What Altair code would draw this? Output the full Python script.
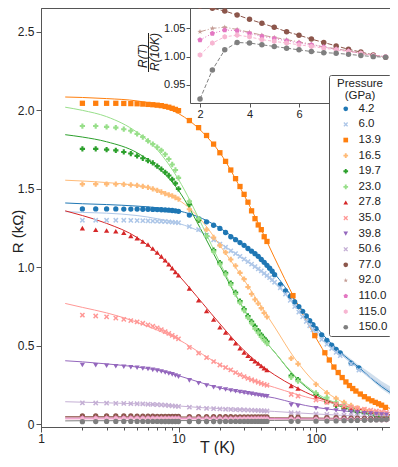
import altair as alt
import pandas as pd

FONT = "Liberation Sans"
PL, PT = 41, 8          # page position of plot-area top-left corner
W, H = 349, 419         # plot area
SVG_W, SVG_H = 382, 447

PRESSURES = ["4.2", "6.0", "13.9", "16.5", "19.7", "23.0", "27.8", "35.0", "39.8",
             "50.6", "77.0", "92.0", "110.0", "115.0", "150.0"]
COLORS = ["#1f77b4", "#aec7e8", "#ff7f0e", "#ffbb78", "#2ca02c", "#98df8a", "#d62728",
          "#ff9896", "#9467bd", "#c5b0d5", "#8c564b", "#c49c94", "#e377c2", "#f7b6d2", "#7f7f7f"]
X_PATH = "M-1,-0.6L-0.6,-1L0,-0.4L0.6,-1L1,-0.6L0.4,0L1,0.6L0.6,1L0,0.4L-0.6,1L-1,0.6L-0.4,0Z"
STAR = "M0,-1L0.235,-0.324L0.951,-0.309L0.38,0.124L0.588,0.809L0,0.4L-0.588,0.809L-0.38,0.124L-0.951,-0.309L-0.235,-0.324Z"
PENT = "M0,-1L0.951,-0.309L0.588,0.809L-0.588,0.809L-0.951,-0.309Z"
HEX = "M0,-1L0.866,-0.5L0.866,0.5L0,1L-0.866,0.5L-0.866,-0.5Z"
SHAPES = ["circle", X_PATH, "square", "cross", "cross", "cross", "triangle-up", X_PATH,
          "triangle-down", X_PATH, "circle", STAR, PENT, HEX, "circle"]

# ---- measured temperatures (K) ----
T_A = [2, 2.5, 3, 3.5, 4, 4.5, 5, 5.5, 6, 6.5, 7, 7.5, 8, 8.5, 9, 9.5, 10]
T_B = [12, 14, 16, 18, 20, 22, 24, 26, 28, 30, 32, 34, 36, 38, 40, 42, 44]
T_DENSE = [46, 48, 50, 55, 60, 65, 70, 75, 80, 85, 90, 95, 100, 110, 120, 130, 140, 150, 180, 205]
T_MID = [66, 74, 100]
T_HIGH = [120, 140, 160, 180, 200, 225, 250, 275, 300, 325]
T_ORANGE = [68, 98, 116, 125, 135, 145, 155, 165, 175, 185, 195, 210, 225, 240, 255, 270, 285, 300, 320]

# ---- measured resistance (kOhm) ----
R_4_2 = [1.372, 1.372, 1.372, 1.372, 1.371, 1.371, 1.371, 1.370, 1.370, 1.369, 1.368, 1.367, 1.366, 1.364, 1.362, 1.360, 1.357,
         1.333, 1.310, 1.290, 1.268, 1.248, 1.222, 1.195, 1.176, 1.158, 1.140, 1.120, 1.103, 1.087, 1.070, 1.050, 1.032, 1.013,
         0.995, 0.975, 0.953, 0.890, 0.850, 0.815, 0.780, 0.750, 0.720, 0.690, 0.660, 0.635, 0.610, 0.570, 0.535, 0.505, 0.478, 0.455, 0.390, 0.360]
R_6_0 = [1.300, 1.300, 1.300, 1.300, 1.300, 1.299, 1.298, 1.297, 1.296, 1.295, 1.294, 1.293, 1.292, 1.290, 1.288, 1.286, 1.284,
         1.260, 1.240, 1.205, 1.175, 1.148, 1.128, 1.105, 1.088, 1.070, 1.052, 1.036, 1.020, 1.005, 0.990, 0.977, 0.962, 0.948,
         0.935, 0.920, 0.905, 0.870, 0.830, 0.790, 0.750, 0.715, 0.685, 0.655, 0.628, 0.602, 0.580, 0.540, 0.510, 0.483, 0.458, 0.437, 0.385, 0.345]
R_13_9 = [2.045, 2.045, 2.045, 2.045, 2.044, 2.043, 2.042, 2.040, 2.038, 2.036, 2.033, 2.030, 2.025, 2.020, 2.013, 2.006, 1.998,
          1.935, 1.890, 1.840, 1.785, 1.730, 1.675, 1.620, 1.565, 1.515, 1.465, 1.415, 1.360, 1.310, 1.270, 1.240, 1.195, 1.165,
          0.820, 0.565, 0.456, 0.410, 0.365, 0.330, 0.298, 0.270, 0.247, 0.228, 0.212, 0.193, 0.176, 0.162, 0.150, 0.140, 0.131, 0.122, 0.108]
R_16_5 = [1.530, 1.530, 1.530, 1.530, 1.528, 1.525, 1.522, 1.516, 1.510, 1.500, 1.490, 1.480, 1.470, 1.462, 1.455, 1.445, 1.435,
          1.370, 1.300, 1.240, 1.190, 1.140, 1.095, 1.050, 1.010, 0.965, 0.925, 0.875, 0.830, 0.795, 0.770, 0.740, 0.710, 0.685,
          0.420, 0.385, 0.255,
          0.200, 0.165, 0.140, 0.120, 0.105, 0.092, 0.082, 0.074, 0.067, 0.062]
R_19_7 = [1.755, 1.755, 1.750, 1.745, 1.735, 1.725, 1.710, 1.695, 1.680, 1.665, 1.645, 1.625, 1.605, 1.585, 1.560, 1.535, 1.500,
          1.400, 1.300, 1.200, 1.110, 1.030, 0.965, 0.900, 0.840, 0.785, 0.735, 0.690, 0.655, 0.625, 0.597, 0.570, 0.548, 0.528,
          0.310, 0.285, 0.190,
          0.145, 0.120, 0.100, 0.087, 0.077, 0.068, 0.060, 0.054, 0.050, 0.046]
R_23_0 = [1.900, 1.900, 1.895, 1.890, 1.880, 1.870, 1.850, 1.830, 1.805, 1.785, 1.765, 1.745, 1.720, 1.690, 1.655, 1.620, 1.570,
          1.420, 1.310, 1.200, 1.100, 1.020, 0.955, 0.890, 0.830, 0.775, 0.725, 0.680, 0.645, 0.610, 0.583, 0.557, 0.535, 0.515,
          0.300, 0.275, 0.200,
          0.170, 0.140, 0.118, 0.102, 0.090, 0.080, 0.071, 0.064, 0.058, 0.053]
R_27_8 = [1.250, 1.240, 1.235, 1.230, 1.220, 1.200, 1.185, 1.165, 1.145, 1.120, 1.095, 1.070, 1.045, 1.020, 0.995, 0.970, 0.950,
          0.866, 0.790, 0.722, 0.668, 0.618, 0.585, 0.548, 0.516, 0.485, 0.458, 0.437, 0.418, 0.402, 0.387, 0.372, 0.358, 0.346,
          0.245, 0.228, 0.176,
          0.145, 0.128, 0.115, 0.105, 0.097, 0.088, 0.080, 0.074, 0.068, 0.063]
R_35_0 = [0.696, 0.690, 0.685, 0.677, 0.669, 0.661, 0.653, 0.644, 0.634, 0.625, 0.615, 0.603, 0.591, 0.579, 0.567, 0.556, 0.545,
          0.490, 0.453, 0.425, 0.400, 0.378, 0.362, 0.347, 0.330, 0.316, 0.304, 0.293, 0.284, 0.276, 0.268, 0.261, 0.255, 0.249,
          0.190, 0.180, 0.155,
          0.140, 0.128, 0.118, 0.110, 0.103, 0.096, 0.090, 0.085, 0.080, 0.076]
R_39_8 = [0.378, 0.376, 0.373, 0.370, 0.367, 0.364, 0.360, 0.356, 0.352, 0.347, 0.342, 0.336, 0.330, 0.324, 0.318, 0.311, 0.304,
          0.280, 0.262, 0.247, 0.236, 0.228, 0.222, 0.216, 0.211, 0.206, 0.202, 0.198, 0.194, 0.190, 0.187, 0.184, 0.181, 0.178,
          0.123, 0.117, 0.102,
          0.094, 0.088, 0.083, 0.079, 0.075, 0.071, 0.068, 0.065, 0.062, 0.060]
R_50_6 = [0.137, 0.136, 0.135, 0.134, 0.133, 0.132, 0.131, 0.130, 0.128, 0.127, 0.126, 0.124, 0.122, 0.120, 0.118, 0.116, 0.114,
          0.109, 0.105, 0.102, 0.100, 0.098, 0.096, 0.095, 0.094, 0.093, 0.092, 0.091, 0.090, 0.089, 0.088, 0.087, 0.086, 0.085,
          0.074, 0.072, 0.066,
          0.063, 0.060, 0.058, 0.056, 0.054, 0.052, 0.050, 0.049, 0.047, 0.046]
R_77_0 = [0.0545, 0.0543, 0.0540, 0.0537, 0.0533, 0.0530, 0.0526, 0.0522, 0.0519, 0.0516, 0.0513, 0.0510, 0.0507, 0.0504, 0.0502, 0.0500, 0.0499,
          0.0495, 0.0490, 0.0488, 0.0486, 0.0485, 0.0483, 0.0482, 0.0480, 0.0479, 0.0478, 0.0477, 0.0476, 0.0475, 0.0474, 0.0473, 0.0472, 0.0471,
          0.0460, 0.0455, 0.0440,
          0.043, 0.042, 0.041, 0.040, 0.039, 0.038, 0.037, 0.036, 0.035, 0.034]
R_92_0 = [0.0465, 0.0468, 0.0469, 0.0467, 0.0465, 0.0463, 0.0461, 0.0459, 0.0457, 0.0455, 0.0453, 0.0452, 0.0450, 0.0449, 0.0447, 0.0446, 0.0445,
          0.0442, 0.0440, 0.0438, 0.0436, 0.0435, 0.0433, 0.0432, 0.0431, 0.0430, 0.0429, 0.0428, 0.0427, 0.0426, 0.0425, 0.0424, 0.0423, 0.0422,
          0.0410, 0.0405, 0.0400,
          0.039, 0.038, 0.037, 0.0365, 0.036, 0.035, 0.034, 0.0335, 0.033, 0.032]
R_110_0 = [0.0392, 0.0396, 0.0399, 0.0398, 0.0396, 0.0394, 0.0392, 0.0391, 0.0389, 0.0388, 0.0386, 0.0385, 0.0384, 0.0382, 0.0381, 0.0380, 0.0379,
           0.0377, 0.0375, 0.0374, 0.0373, 0.0372, 0.0371, 0.0370, 0.0369, 0.0368, 0.0367, 0.0366, 0.0365, 0.0364, 0.0363, 0.0362, 0.0361, 0.0360,
           0.0350, 0.0345, 0.0340,
           0.0335, 0.033, 0.0325, 0.032, 0.0315, 0.031, 0.0305, 0.030, 0.0298, 0.0295]
R_115_0 = [0.0341, 0.0348, 0.0352, 0.0353, 0.0352, 0.0350, 0.0349, 0.0348, 0.0347, 0.0346, 0.0345, 0.0344, 0.0343, 0.0342, 0.0341, 0.0340, 0.0340,
           0.0338, 0.0336, 0.0335, 0.0334, 0.0333, 0.0332, 0.0331, 0.0330, 0.0329, 0.0328, 0.0327, 0.0326, 0.0325, 0.0324, 0.0323, 0.0322, 0.0321,
           0.0310, 0.0305, 0.0300,
           0.0295, 0.029, 0.0288, 0.0285, 0.0282, 0.028, 0.0278, 0.0275, 0.0272, 0.027]
R_150_0 = [0.0167, 0.0176, 0.0182, 0.0185, 0.0185, 0.0184, 0.0184, 0.0183, 0.0183, 0.0182, 0.0182, 0.0181, 0.0181, 0.0181, 0.0180, 0.0180, 0.0180,
           0.0180, 0.0180, 0.0180, 0.0181, 0.0181, 0.0182, 0.0182, 0.0183, 0.0183, 0.0184, 0.0184, 0.0185, 0.0185, 0.0186, 0.0186, 0.0187, 0.0187,
           0.0190, 0.0192, 0.0200,
           0.021, 0.022, 0.023, 0.024, 0.025, 0.026, 0.027, 0.028, 0.029, 0.030]

T_OTHER = T_A + T_B + T_MID + T_HIGH
POINTS = [
    ("4.2", T_A + T_B + T_DENSE, R_4_2), ("6.0", T_A + T_B + T_DENSE, R_6_0),
    ("13.9", T_A + T_B + T_ORANGE, R_13_9), ("16.5", T_OTHER, R_16_5),
    ("19.7", T_OTHER, R_19_7), ("23.0", T_OTHER, R_23_0), ("27.8", T_OTHER, R_27_8),
    ("35.0", T_OTHER, R_35_0), ("39.8", T_OTHER, R_39_8), ("50.6", T_OTHER, R_50_6),
    ("77.0", T_OTHER, R_77_0), ("92.0", T_OTHER, R_92_0), ("110.0", T_OTHER, R_110_0),
    ("115.0", T_OTHER, R_115_0), ("150.0", T_OTHER, R_150_0),
]

# ---- fitted curves, read at these temperatures ----
T_FIT = [1.5, 2, 3, 5, 7, 10, 15, 20, 30, 40, 50, 70, 100, 150, 200, 300, 350]
FIT = {
    "4.2":   [1.410, 1.405, 1.400, 1.390, 1.380, 1.360, 1.310, 1.250, 1.140, 1.050, 0.960, 0.790, 0.620, 0.460, 0.370, 0.240, 0.200],
    "6.0":   [1.355, 1.350, 1.345, 1.330, 1.310, 1.280, 1.220, 1.155, 1.050, 0.970, 0.900, 0.760, 0.600, 0.450, 0.360, 0.250, 0.210],
    "13.9":  [2.085, 2.082, 2.075, 2.060, 2.035, 1.980, 1.860, 1.730, 1.460, 1.240, 1.060, 0.800, 0.550, 0.310, 0.200, 0.120, 0.100],
    "16.5":  [1.555, 1.550, 1.540, 1.520, 1.490, 1.430, 1.290, 1.140, 0.920, 0.750, 0.620, 0.420, 0.260, 0.150, 0.105, 0.066, 0.058],
    "19.7":  [1.845, 1.830, 1.800, 1.730, 1.640, 1.490, 1.220, 1.010, 0.730, 0.560, 0.460, 0.305, 0.190, 0.115, 0.080, 0.050, 0.043],
    "23.0":  [2.020, 2.000, 1.960, 1.860, 1.750, 1.560, 1.260, 1.030, 0.730, 0.560, 0.460, 0.310, 0.200, 0.125, 0.090, 0.058, 0.050],
    "27.8":  [1.360, 1.330, 1.280, 1.190, 1.090, 0.950, 0.770, 0.640, 0.470, 0.375, 0.315, 0.240, 0.175, 0.125, 0.098, 0.068, 0.060],
    "35.0":  [0.770, 0.745, 0.710, 0.650, 0.600, 0.540, 0.445, 0.380, 0.305, 0.262, 0.235, 0.195, 0.158, 0.125, 0.105, 0.082, 0.075],
    "39.8":  [0.405, 0.398, 0.385, 0.365, 0.345, 0.310, 0.262, 0.232, 0.200, 0.182, 0.168, 0.135, 0.108, 0.088, 0.076, 0.062, 0.058],
    "50.6":  [0.144, 0.141, 0.137, 0.131, 0.125, 0.117, 0.106, 0.100, 0.093, 0.087, 0.082, 0.074, 0.066, 0.058, 0.053, 0.046, 0.044],
    "77.0":  [0.049, 0.049, 0.049, 0.048, 0.048, 0.047, 0.046, 0.045, 0.044, 0.043, 0.042, 0.041, 0.040, 0.038, 0.037, 0.035, 0.034],
    "92.0":  [0.045, 0.045, 0.045, 0.044, 0.044, 0.043, 0.043, 0.042, 0.041, 0.040, 0.040, 0.039, 0.038, 0.036, 0.035, 0.034, 0.033],
    "110.0": [0.039, 0.039, 0.039, 0.039, 0.038, 0.038, 0.038, 0.037, 0.037, 0.036, 0.036, 0.035, 0.034, 0.033, 0.032, 0.031, 0.031],
    "115.0": [0.034, 0.034, 0.034, 0.034, 0.034, 0.033, 0.033, 0.033, 0.033, 0.032, 0.032, 0.031, 0.031, 0.030, 0.030, 0.029, 0.029],
    "150.0": [0.022, 0.023, 0.023, 0.024, 0.024, 0.024, 0.024, 0.025, 0.025, 0.025, 0.025, 0.026, 0.026, 0.026, 0.026, 0.027, 0.027],
}

# ---- uncertainty band of the 4.2 GPa fit at high T ----
BAND_T = [120, 150, 200, 250, 300, 350]
BAND_LO = [0.535, 0.455, 0.355, 0.285, 0.225, 0.185]
BAND_HI = [0.545, 0.470, 0.385, 0.325, 0.275, 0.240]

# ---- inset: R(T)/R(10K) ----
T_IN = [2, 2.5, 3, 3.5, 4, 4.5, 5, 5.5, 6, 6.5, 7, 7.5, 8, 8.5, 9, 9.5]
INSET = {
    "77.0":  [1.0896, 1.0855, 1.0807, 1.0737, 1.066, 1.059, 1.052, 1.044, 1.038, 1.031, 1.025, 1.019, 1.013, 1.008, 1.003, 0.999],
    "92.0":  [1.044, 1.050, 1.052, 1.048, 1.043, 1.038, 1.034, 1.030, 1.026, 1.022, 1.017, 1.014, 1.010, 1.006, 1.002, 1.000],
    "110.0": [1.0295, 1.041, 1.047, 1.046, 1.041, 1.036, 1.032, 1.028, 1.024, 1.021, 1.017, 1.013, 1.010, 1.006, 1.002, 1.000],
    "115.0": [1.003, 1.024, 1.035, 1.038, 1.035, 1.030, 1.027, 1.024, 1.021, 1.018, 1.015, 1.012, 1.009, 1.006, 1.002, 1.000],
    "150.0": [0.925, 0.9765, 1.012, 1.025, 1.024, 1.021, 1.018, 1.015, 1.012, 1.009, 1.007, 1.006, 1.004, 1.002, 1.000, 0.999],
}
INSET_DASH = [[5, 2], [6, 2, 1, 2], [1, 2], [3, 2], [4, 2]]

X_TICKS = [1, 2, 3, 4, 5, 6, 7, 8, 9, 10, 20, 30, 40, 50, 60, 70, 80, 90, 100, 200, 300]
Y_TICKS = [0, 0.5, 1.0, 1.5, 2.0, 2.5]

# ---- tables ----
pts_rows = []
for p, ts, rs in POINTS:
    assert len(ts) == len(rs), p
    for t, r in zip(ts, rs):
        pts_rows.append({"T": t, "R": r, "P": p})
df_pts = pd.DataFrame(pts_rows)

fit_rows = []
for p in PRESSURES:
    for t, r in zip(T_FIT, FIT[p]):
        fit_rows.append({"T": t, "R": r, "P": p})
df_fit = pd.DataFrame(fit_rows)

df_band = pd.DataFrame({"T": BAND_T, "lo": BAND_LO, "hi": BAND_HI})

in_rows = []
for p, vals in INSET.items():
    for t, v in zip(T_IN, vals):
        in_rows.append({"T": t, "ratio": v, "P": p})
df_in = pd.DataFrame(in_rows)

AX = "#555555"
TXT = "#222222"

cscale = alt.Scale(domain=PRESSURES, range=COLORS)
sscale = alt.Scale(domain=PRESSURES, range=SHAPES)
leg = alt.Legend(title=["Pressure", "(GPa)"], orient="none", legendX=329 - PL, legendY=75 - PT,
                 fillColor="white", strokeColor=AX, padding=3, cornerRadius=2,
                 titleFontSize=11.5, titleFontWeight="normal", titleFont=FONT, titleColor=TXT,
                 titleAlign="center", titleAnchor="middle", titleLineHeight=11.6,
                 labelFont=FONT, labelFontSize=11.5, labelColor=TXT, symbolSize=22,
                 rowPadding=2.6, titlePadding=2, symbolOffset=8, labelOffset=7, symbolStrokeWidth=0)

LOG_PX = 137.5                                   # pixels per decade
xs = alt.Scale(type="log", domain=[1, 10 ** (W / LOG_PX)], nice=False)
ys = alt.Scale(domain=[-0.017, 2.652], nice=False, zero=False)
xaxis = alt.Axis(values=X_TICKS, title="T (K)",
                 labelExpr="indexof([1,10,100], datum.value) >= 0 ? format(datum.value, 'd') : ''",
                 tickSize={"condition": {"test": "indexof([1,10,100], datum.value) >= 0", "value": 5}, "value": 3},
                 labelFontSize=12, titleFontSize=16, titleFontWeight="normal", labelPadding=1,
                 titleX=217 - PL, titleY=447 - (PT + H), titleBaseline="middle", titleAlign="center",
                 labelFlush=False, labelOverlap=False, grid=False)
yaxis = alt.Axis(values=Y_TICKS, title="R (kΩ)",
                 labelExpr="datum.value == 0 ? '0' : format(datum.value, '.1f')",
                 tickSize=5, labelFontSize=12, titleFontSize=15, titleFontWeight="normal",
                 labelPadding=2, titleX=17 - PL, titleY=231 - PT, titleBaseline="middle",
                 titleAlign="center", titleAngle=270, grid=False)

X = alt.X("T:Q", scale=xs, axis=xaxis)
Y = alt.Y("R:Q", scale=ys, axis=yaxis)

band = alt.Chart(df_band).mark_area(color="#9ab8d8", opacity=0.45, clip=True).encode(
    x=X, y=alt.Y("lo:Q", scale=ys, axis=yaxis), y2="hi:Q")
main_lines = alt.Chart(df_fit).mark_line(strokeWidth=1, interpolate="monotone", clip=True).encode(
    x=X, y=Y, color=alt.Color("P:N", scale=cscale, legend=leg))
main_pts = alt.Chart(df_pts).mark_point(filled=True, size=28, opacity=1, strokeWidth=0).encode(
    x=X, y=Y,
    color=alt.Color("P:N", scale=cscale, legend=leg),
    shape=alt.Shape("P:N", scale=sscale, legend=leg))
main = alt.layer(band, main_lines, main_pts)

IN_L = 190 - PL
IN_PX = 24.75                                    # inset pixels per kelvin
ixs = alt.Scale(domain=[2 - (200 - 190) / IN_PX, 2 + (PL + W - 200) / IN_PX], range=[IN_L, W], nice=False)
iys = alt.Scale(domain=[0.918, 1.086], range=[95, 0], nice=False, zero=False)
ixaxis = alt.Axis(orient="bottom", offset=-(H - 95), values=[2, 4, 6, 8], format="d", title=None,
                  tickSize=4, labelFontSize=11, grid=False, labelPadding=1)
iyaxis = alt.Axis(orient="left", offset=-IN_L, values=[0.95, 1.00, 1.05], format=".2f", title=None,
                  tickSize=4, labelFontSize=11, grid=False, labelPadding=1)
IX = alt.X("T:Q", scale=ixs, axis=ixaxis)
IY = alt.Y("ratio:Q", scale=iys, axis=iyaxis)
in_lines = alt.Chart(df_in).mark_line(strokeWidth=1).encode(
    x=IX, y=IY, color=alt.Color("P:N", scale=cscale, legend=leg),
    strokeDash=alt.StrokeDash("P:N", scale=alt.Scale(domain=list(INSET.keys()), range=INSET_DASH), legend=None))
in_pts = alt.Chart(df_in).mark_point(filled=True, size=30, opacity=1, strokeWidth=0).encode(
    x=IX, y=IY, color=alt.Color("P:N", scale=cscale, legend=leg),
    shape=alt.Shape("P:N", scale=sscale, legend=leg))
inset = alt.layer(in_lines, in_pts)

num = alt.Chart(pd.DataFrame({"t": ["R(T)"]})).mark_text(
    angle=270, fontStyle="italic", fontSize=12, font=FONT, color=TXT, align="center", baseline="middle"
).encode(text="t:N", x=alt.value(142.5 - PL), y=alt.value(56 - PT))
den = alt.Chart(pd.DataFrame({"t": ["R(10K)"]})).mark_text(
    angle=270, fontStyle="italic", fontSize=12, font=FONT, color=TXT, align="center", baseline="middle"
).encode(text="t:N", x=alt.value(155 - PL), y=alt.value(52 - PT))
bar = alt.Chart(pd.DataFrame({"a": [0]})).mark_rule(color=TXT, strokeWidth=1).encode(
    x=alt.value(148.5 - PL), y=alt.value(33 - PT), y2=alt.value(72 - PT))

chart = alt.layer(main, inset, num, den, bar).resolve_scale(
    x="independent", y="independent").resolve_axis(x="independent", y="independent").properties(
    width=W, height=H, autosize=alt.AutoSizeParams(type="none"),
    padding={"left": PL - 8, "top": PT - 8, "right": SVG_W - (PL - 8) - W, "bottom": SVG_H - H}
).configure_view(stroke=AX, strokeWidth=1).configure_axis(
    domainColor=AX, tickColor=AX, labelColor=TXT, titleColor=TXT,
    labelFont=FONT, titleFont=FONT
).configure_text(font=FONT)

chart.save("out.html", embed_options={"renderer": "svg", "actions": False})
